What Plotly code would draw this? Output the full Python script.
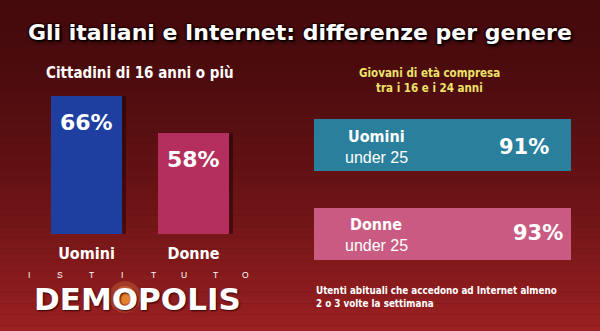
import plotly.graph_objects as go

# ---- data ----
all_categories = ["Uomini", "Donne"]
all_values = [66, 58]
young_categories = ["Uomini", "Donne"]
young_values = [91, 93]
young_label_sub = ["under 25", "under 25"]

W, H = 600, 331
COND = "DejaVu Sans Condensed, Liberation Sans Narrow, sans-serif"
HEAVY = "DejaVu Sans, Arial Black, sans-serif"
SANS = "Liberation Sans, Arial, sans-serif"

fig = go.Figure()

# shadows + bars (left: all citizens)
fig.add_trace(go.Bar(x=all_categories, y=all_values, width=0.664, offset=-0.332 + 0.04,
                     marker=dict(color="rgba(20,0,0,0.45)", line_width=0),
                     xaxis="x", yaxis="y", hoverinfo="skip", showlegend=False))
fig.add_trace(go.Bar(x=all_categories, y=all_values, width=0.664, offset=-0.332,
                     marker=dict(color=["#1e3fa0", "#b42f5e"], line_width=0),
                     xaxis="x", yaxis="y", showlegend=False))

# right: young people, horizontal
fig.add_trace(go.Bar(y=young_categories, x=young_values, orientation="h", width=0.588,
                     marker=dict(color=["#2a7f9c", "#c95b82"], line_width=0),
                     xaxis="x2", yaxis="y2", showlegend=False))

# gradient background bands
shapes = []
N = 60
c0 = (0x45, 0x0a, 0x0c)
c1 = (0x9c, 0x20, 0x22)
for i in range(N):
    t = (i + 0.5) / N
    tt = t ** 1.6
    col = tuple(int(round(c0[k] + (c1[k] - c0[k]) * tt)) for k in range(3))
    shapes.append(dict(type="rect", xref="paper", yref="paper", x0=0, x1=1,
                       y0=1 - (i + 1) / N - 0.001, y1=1 - i / N,
                       fillcolor="rgb(%d,%d,%d)" % col, line_width=0, layer="below"))
# logo glow
gx, gy = 125, 297
for r, colr in [(16, "rgba(255,170,80,0.22)"), (11, "rgba(255,160,70,0.35)"), (7, "rgba(235,135,45,0.85)")]:
    shapes.append(dict(type="circle", xref="paper", yref="paper",
                       x0=(gx - r) / W, x1=(gx + r) / W, y0=1 - (gy + r) / H, y1=1 - (gy - r) / H,
                       fillcolor=colr, line_width=0, layer="below"))


def A(text, x, y, font, **kw):
    d = dict(text=text, x=x, y=y, xref="paper", yref="paper", showarrow=False,
             xanchor="center", yanchor="middle", font=font)
    d.update(kw)
    return d


ann = []
outline = "1px 1px 1px #000, -1px -1px 1px #200, 1px -1px 1px #200, -1px 1px 1px #200, 2px 2px 3px #000"
ann.append(A("Gli italiani e Internet: differenze per genere", 0.5, 1 - 33 / H,
             dict(family=HEAVY, size=22, color="white", weight="bold", shadow=outline)))
ann.append(A("Cittadini di 16 anni o più", 140 / W, 1 - 73 / H,
             dict(family=COND, size=15, color="white", weight="bold")))
ann.append(A("Giovani di età compresa", 429 / W, 1 - 73 / H,
             dict(family=COND, size=11.5, color="#ece36a", weight="bold")))
ann.append(A("tra i 16 e i 24 anni", 429 / W, 1 - 88 / H,
             dict(family=COND, size=11.5, color="#ece36a", weight="bold")))

for c, v in zip(all_categories, all_values):
    ann.append(dict(text="%d%%" % v, x=c, y=v, xref="x", yref="y", xanchor="center",
                    yanchor="top", yshift=-12, showarrow=False,
                    font=dict(family=HEAVY, size=22, color="white", weight="bold")))

pct_x = [84, 89]
pct_shift = [-2, 0]
for c, v, sub, px, ps in zip(young_categories, young_values, young_label_sub, pct_x, pct_shift):
    ann.append(dict(text=c, x=22, y=c, xref="x2", yref="y2", xanchor="center", yanchor="middle",
                    yshift=9, showarrow=False,
                    font=dict(family=COND, size=16, color="white", weight="bold")))
    ann.append(dict(text=sub, x=22, y=c, xref="x2", yref="y2", xanchor="center", yanchor="middle",
                    yshift=-12, showarrow=False,
                    font=dict(family=SANS, size=16, color="white")))
    ann.append(dict(text="%d%%" % v, x=px, y=c, xref="x2", yref="y2", xanchor="right",
                    yanchor="middle", yshift=ps, showarrow=False,
                    font=dict(family=HEAVY, size=21, color="white", weight="bold")))

ann.append(A("Utenti abituali che accedono ad Internet almeno<br>2 o 3 volte la settimana",
             314 / W, 1 - 297 / H, dict(family=COND, size=9.8, color="white", weight="bold"),
             xanchor="left", align="left"))

# logo
ann.append(A("DEMOPOLIS", 137.5 / W, 1 - 299 / H,
             dict(family=HEAVY, size=31, color="white", weight="bold", shadow="1px 1px 2px #300")))
letters = list("ISTITUTO")
for i, L in enumerate(letters):
    ann.append(A(L, (29 + i * 31) / W, 1 - 275 / H, dict(family=SANS, size=8.5, color="white")))

fig.update_layout(
    width=W, height=H, margin=dict(l=0, r=0, t=0, b=0),
    paper_bgcolor="#450a0c", plot_bgcolor="rgba(0,0,0,0)",
    shapes=shapes, annotations=ann, barmode="overlay", bargap=0,
    xaxis=dict(domain=[0.055, 0.4117], range=[-0.5, 1.5], anchor="y", showgrid=False,
               zeroline=False, showline=False, ticks="outside", ticklen=5,
               tickcolor="rgba(0,0,0,0)",
               tickfont=dict(family=COND, size=16, color="white", weight="bold"),
               fixedrange=True),
    yaxis=dict(domain=[1 - 234 / H, 1 - 96 / H], range=[36.2, 66], visible=False, fixedrange=True),
    xaxis2=dict(domain=[314 / W, 571 / W], range=[0, 91], anchor="y2", visible=False, fixedrange=True),
    yaxis2=dict(domain=[0.1609, 0.6956], range=[1.5, -0.5], anchor="x2", visible=False,
                type="category", fixedrange=True),
)

fig.write_html("out.html")
